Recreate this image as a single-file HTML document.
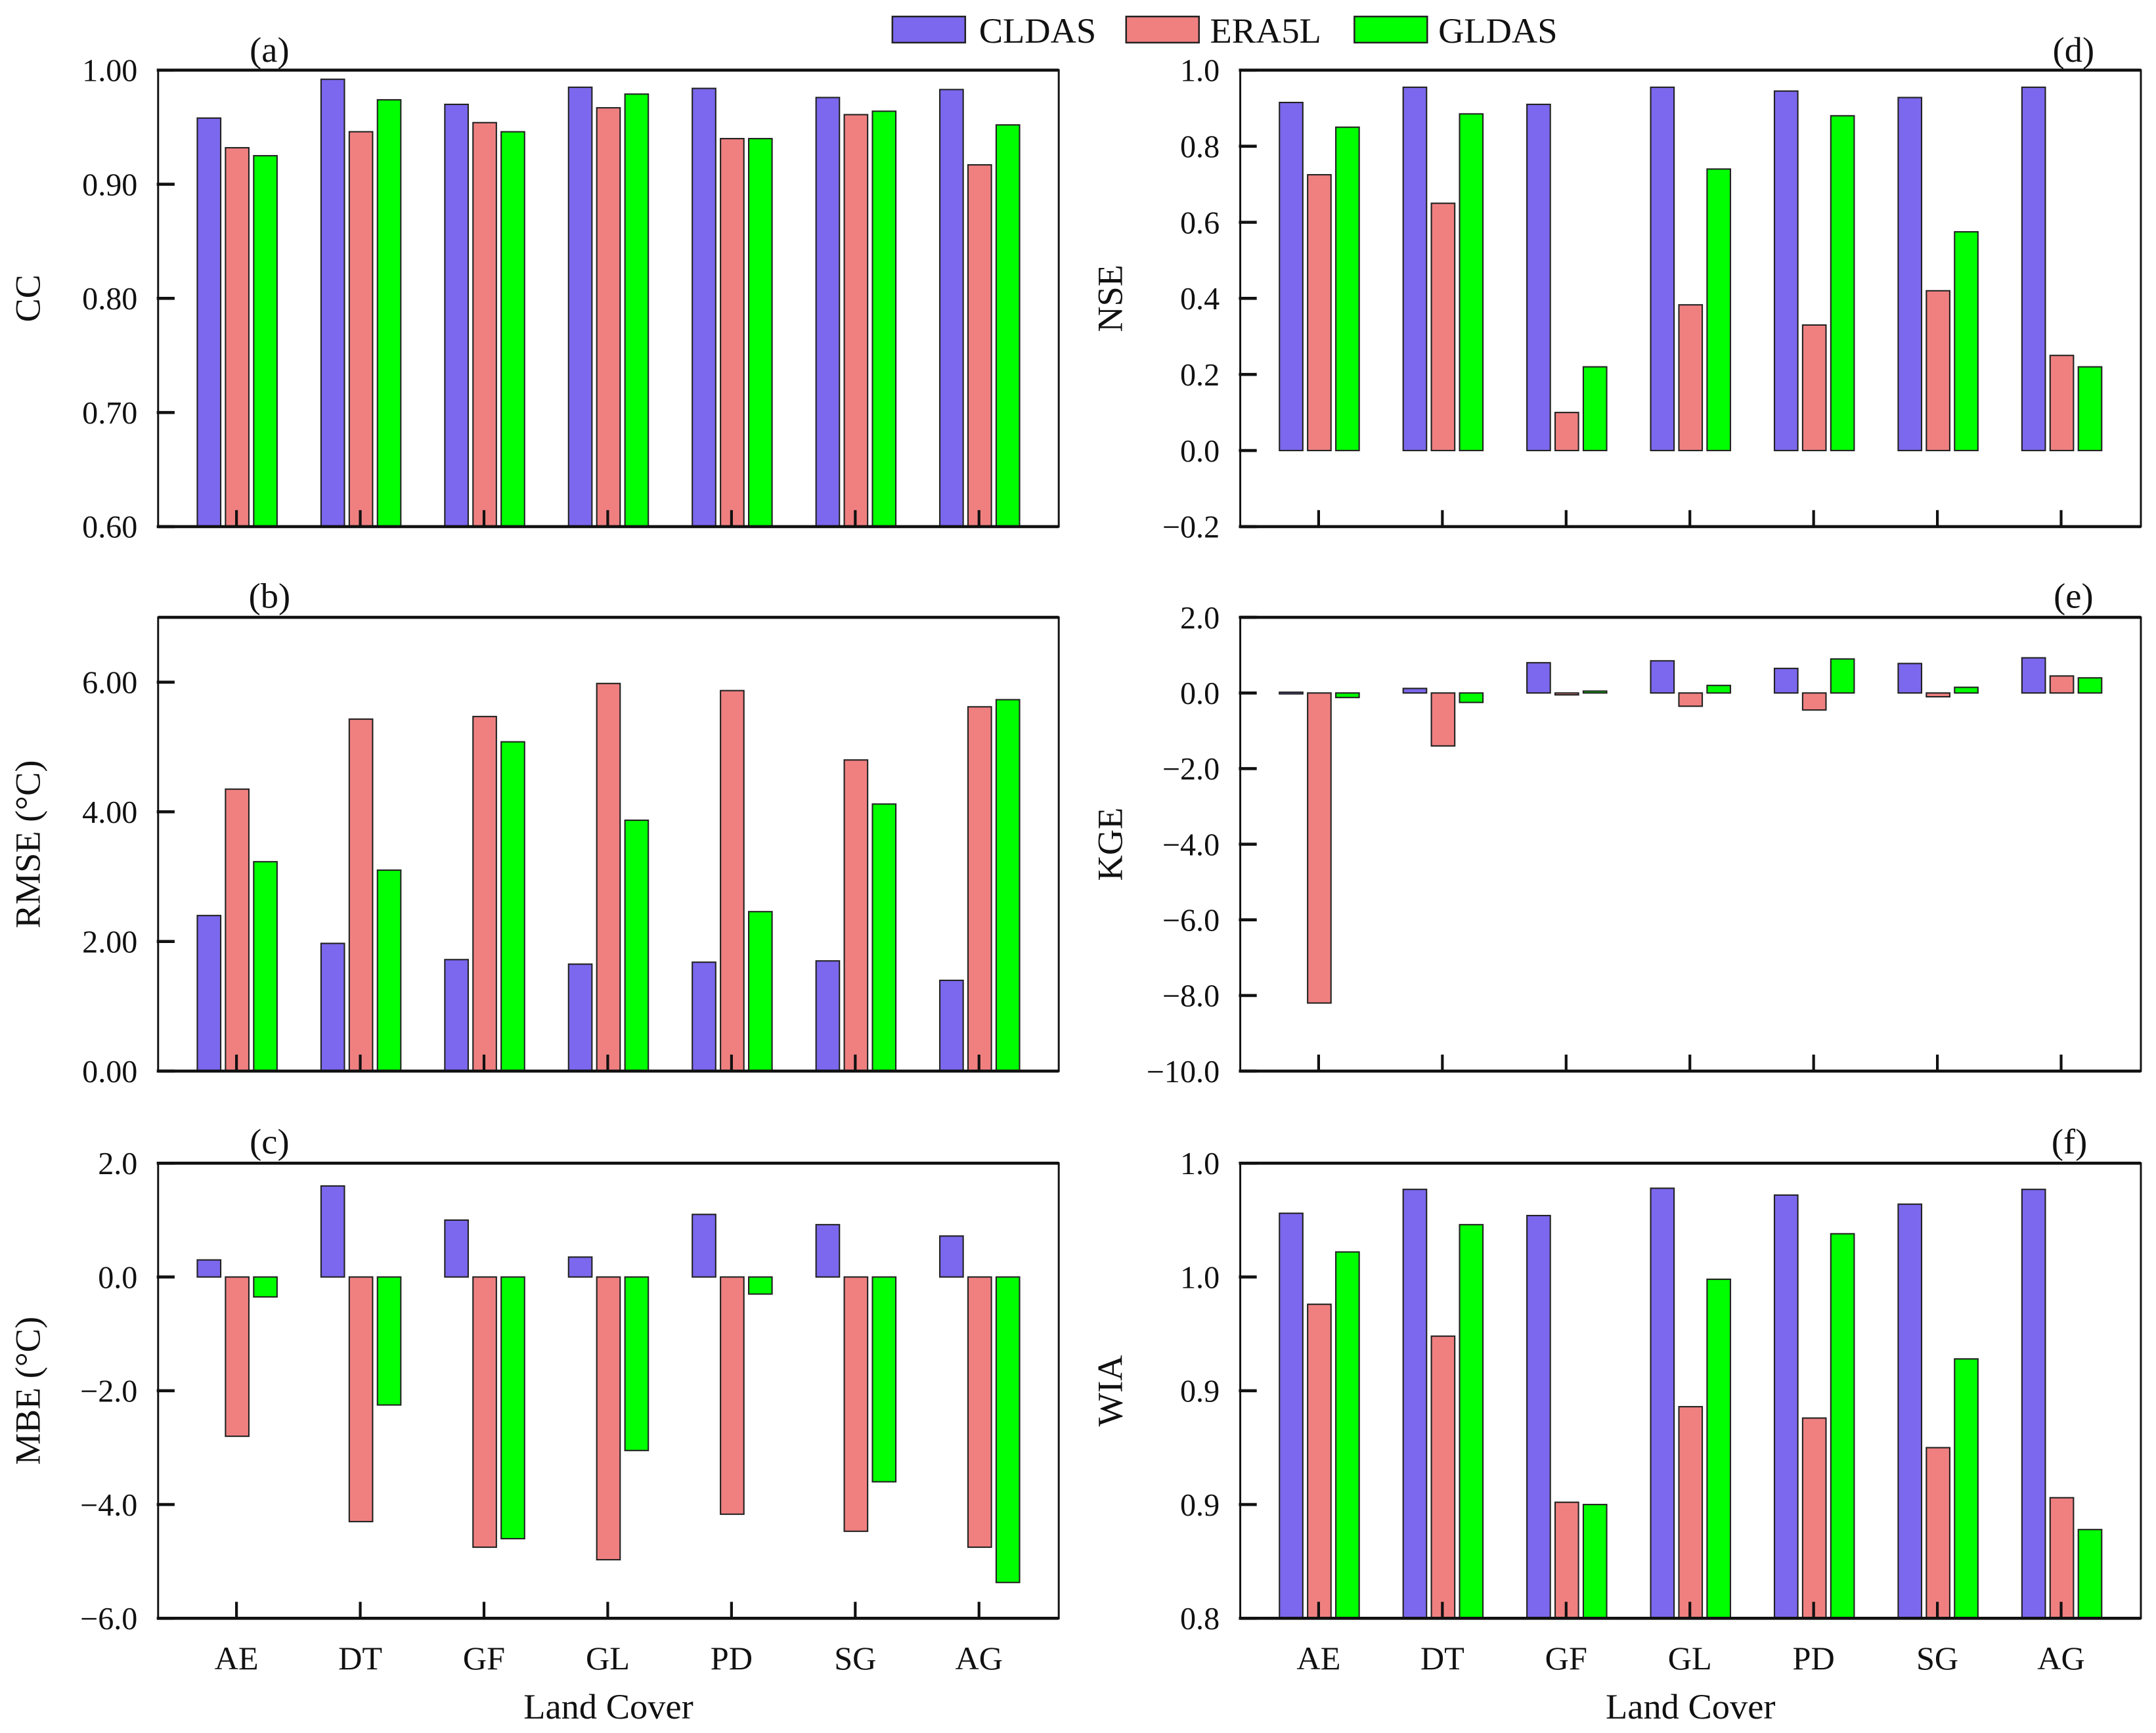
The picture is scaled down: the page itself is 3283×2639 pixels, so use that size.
<!DOCTYPE html>
<html><head><meta charset="utf-8"><style>
html,body{margin:0;padding:0;background:#fff;}
svg{display:block;}
text{font-family:"Liberation Serif","DejaVu Serif",serif;fill:#111;}
</style></head><body>
<svg id="chart" width="3283" height="2639" viewBox="0 0 1568 1260.4" xmlns="http://www.w3.org/2000/svg">
<g id="legend">
 <g><rect x="649" y="12" width="53" height="19" fill="#7b68ee" stroke="#222" stroke-width="1.2"/><text x="712" y="31" font-size="26">CLDAS</text></g>
 <g><rect x="819" y="12" width="53" height="19" fill="#f08080" stroke="#222" stroke-width="1.2"/><text x="880" y="31" font-size="26">ERA5L</text></g>
 <g><rect x="985" y="12" width="53" height="19" fill="#00ff00" stroke="#222" stroke-width="1.2"/><text x="1046" y="31" font-size="26">GLDAS</text></g>
</g>
</svg>
<script>
const categories = ["AE","DT","GF","GL","PD","SG","AG"];
const seriesNames = ["CLDAS","ERA5L","GLDAS"];
const ccCLDAS = [0.958,0.992,0.970,0.985,0.984,0.976,0.983];
const ccERA5L = [0.932,0.946,0.954,0.967,0.940,0.961,0.917];
const ccGLDAS = [0.925,0.974,0.946,0.979,0.940,0.964,0.952];
const rmseCLDAS = [2.40,1.97,1.72,1.65,1.68,1.70,1.40];
const rmseERA5L = [4.35,5.43,5.47,5.98,5.87,4.80,5.62];
const rmseGLDAS = [3.23,3.10,5.08,3.87,2.46,4.12,5.73];
const mbeCLDAS = [0.30,1.60,1.00,0.35,1.10,0.92,0.72];
const mbeERA5L = [-2.80,-4.30,-4.75,-4.97,-4.17,-4.47,-4.75];
const mbeGLDAS = [-0.35,-2.25,-4.60,-3.05,-0.30,-3.60,-5.37];
const nseCLDAS = [0.915,0.955,0.910,0.955,0.945,0.928,0.955];
const nseERA5L = [0.725,0.650,0.100,0.383,0.330,0.420,0.250];
const nseGLDAS = [0.850,0.885,0.220,0.740,0.880,0.575,0.220];
const kgeCLDAS = [0.02,0.12,0.80,0.85,0.65,0.78,0.93];
const kgeERA5L = [-8.20,-1.40,-0.05,-0.35,-0.45,-0.10,0.45];
const kgeGLDAS = [-0.12,-0.25,0.05,0.20,0.90,0.15,0.40];
const wiaCLDAS = [0.978,0.9885,0.977,0.989,0.986,0.982,0.9885];
const wiaERA5L = [0.938,0.924,0.851,0.893,0.888,0.875,0.853];
const wiaGLDAS = [0.961,0.973,0.850,0.949,0.969,0.914,0.839];
const ccTicks = [0.60,0.70,0.80,0.90,1.00];
const ccTickLabels = ["0.60","0.70","0.80","0.90","1.00"];
const rmseTicks = [0,2,4,6];
const rmseTickLabels = ["0.00","2.00","4.00","6.00"];
const mbeTicks = [-6,-4,-2,0,2];
const mbeTickLabels = ["\u22126.0","\u22124.0","\u22122.0","0.0","2.0"];
const nseTicks = [-0.2,0,0.2,0.4,0.6,0.8,1.0];
const nseTickLabels = ["\u22120.2","0.0","0.2","0.4","0.6","0.8","1.0"];
const kgeTicks = [-10,-8,-6,-4,-2,0,2];
const kgeTickLabels = ["\u221210.0","\u22128.0","\u22126.0","\u22124.0","\u22122.0","0.0","2.0"];
const wiaTicks = [0.80,0.85,0.90,0.95,1.00];
const wiaTickLabels = ["0.8","0.9","0.9","1.0","1.0"];

const NS="http://www.w3.org/2000/svg";
const svg=document.getElementById('chart');
const colors=["#7b68ee","#f08080","#00ff00"];
function mk(tag,attrs,parent){const e=document.createElementNS(NS,tag);for(const k in attrs)e.setAttribute(k,attrs[k]);parent.appendChild(e);return e;}

const panels=[
 {id:"a",title:"CC",x0:115,x1:770,y0:51,y1:383,min:0.6,max:1.0,base:0.6,s:[ccCLDAS,ccERA5L,ccGLDAS],t:ccTicks,tl:ccTickLabels,lab:[196,45],xl:false},
 {id:"b",title:"RMSE (\u00B0C)",x0:115,x1:770,y0:449,y1:779,min:0,max:7,base:0,s:[rmseCLDAS,rmseERA5L,rmseGLDAS],t:rmseTicks,tl:rmseTickLabels,lab:[196,442],xl:false},
 {id:"c",title:"MBE (\u00B0C)",x0:115,x1:770,y0:846,y1:1177,min:-6,max:2,base:0,s:[mbeCLDAS,mbeERA5L,mbeGLDAS],t:mbeTicks,tl:mbeTickLabels,lab:[196,839],xl:true},
 {id:"d",title:"NSE",x0:902,x1:1557,y0:51,y1:383,min:-0.2,max:1.0,base:0,s:[nseCLDAS,nseERA5L,nseGLDAS],t:nseTicks,tl:nseTickLabels,lab:[1508,45],xl:false},
 {id:"e",title:"KGE",x0:902,x1:1557,y0:449,y1:779,min:-10,max:2,base:0,s:[kgeCLDAS,kgeERA5L,kgeGLDAS],t:kgeTicks,tl:kgeTickLabels,lab:[1508,442],xl:false},
 {id:"f",title:"WIA",x0:902,x1:1557,y0:846,y1:1177,min:0.8,max:1.0,base:0.8,s:[wiaCLDAS,wiaERA5L,wiaGLDAS],t:wiaTicks,tl:wiaTickLabels,lab:[1505,839],xl:true}
];

panels.forEach(p=>{
 const g=mk('g',{},svg);
 
 
 const y=v=>p.y1-(v-p.min)/(p.max-p.min)*(p.y1-p.y0);
 const cx=i=>p.x0+57+i*90;
 p.s.forEach((arr,si)=>{
  arr.forEach((v,i)=>{
   const yv=y(v), yb=y(p.base);
   const r=mk('rect',{x:cx(i)-28.5+si*20.5,y:Math.min(yv,yb),width:17,height:Math.max(Math.abs(yb-yv),1.2),fill:colors[si],stroke:"#222","stroke-width":1},g);
   
   
  });
 });
 const f=mk('rect',{x:p.x0,y:p.y0,width:p.x1-p.x0,height:p.y1-p.y0,fill:"none",stroke:"#111","stroke-width":1.4},g);
 
 
 mk('line',{x1:p.x0,x2:p.x1,y1:p.y0,y2:p.y0,stroke:"#111","stroke-width":2.2},g);
 mk('line',{x1:p.x0,x2:p.x1,y1:p.y1,y2:p.y1,stroke:"#111","stroke-width":2.2},g);
 p.t.forEach((tv,k)=>{
  const yy=y(tv);
  mk('line',{x1:p.x0-1,x2:p.x0+12,y1:yy,y2:yy,stroke:"#111","stroke-width":2.2},g);
  const tx=mk('text',{x:p.x0-15,y:yy+8,"font-size":23,"text-anchor":"end"},g);
  tx.textContent=p.tl[k];
  
  
 });
 categories.forEach((c,i)=>{
  mk('line',{x1:cx(i),x2:cx(i),y1:p.y1,y2:p.y1-12,stroke:"#111","stroke-width":2},g);
  if(p.xl){
   const tx=mk('text',{x:cx(i),y:p.y1+37,"font-size":24,"text-anchor":"middle"},g);
   tx.textContent=c;
   
   
  }
 });
 if(p.xl){
  const xt=mk('text',{x:(p.x0+p.x1)/2,y:1250,"font-size":26,"text-anchor":"middle"},g);
  xt.textContent="Land Cover";
  
  
 }
 const ytx=p.x0-86, yty=(p.y0+p.y1)/2;
 const yt=mk('text',{x:ytx,y:yty,"font-size":26,"text-anchor":"middle",transform:`rotate(-90 ${ytx} ${yty})`},g);
 yt.textContent=p.title;
 
 
 const pl=mk('text',{x:p.lab[0],y:p.lab[1],"font-size":26,"text-anchor":"middle"},g);
 pl.textContent="("+p.id+")";
 
 
});
</script>
</body></html>
